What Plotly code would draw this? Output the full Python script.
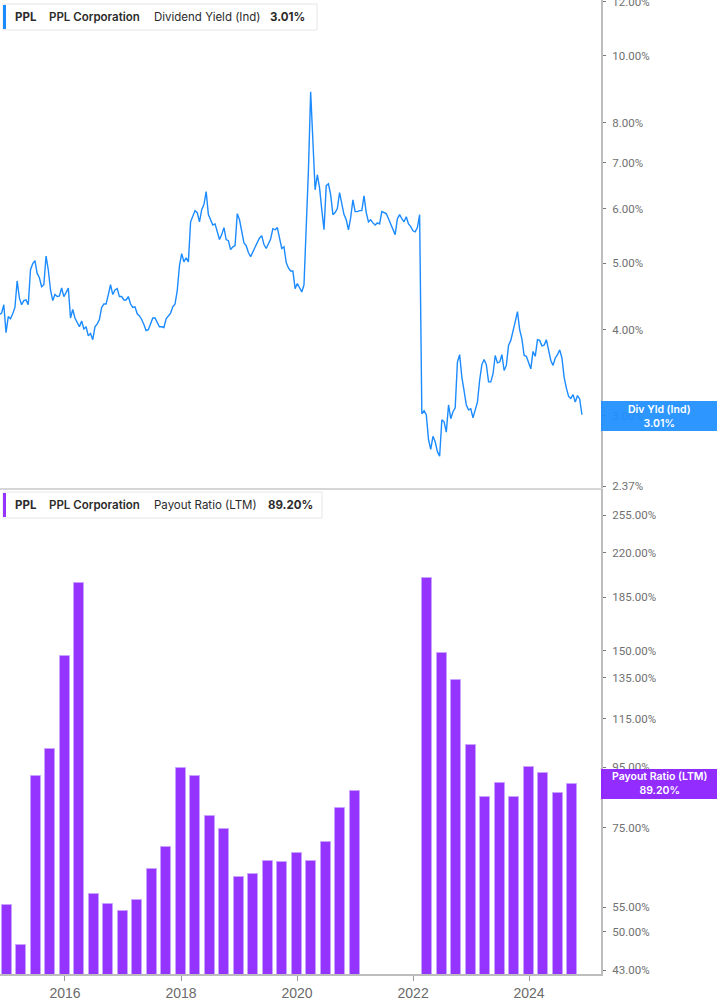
import math
import plotly.graph_objects as go
import pandas as pd

# ---------------- data ----------------
yield_dates = pd.date_range("2014-11-14", periods=263, freq="14D")
div_yield = [
    4.21, 4.23, 4.35, 3.96, 4.18, 4.15, 4.22, 4.31, 4.71, 4.45,
    4.35, 4.41, 4.42, 4.35, 4.89, 4.99, 5.04, 4.83, 4.76, 4.62,
    4.65, 5.12, 4.89, 4.57, 4.41, 4.50, 4.47, 4.48, 4.60, 4.47,
    4.53, 4.60, 4.16, 4.28, 4.16, 4.09, 4.04, 4.12, 4.01, 4.04,
    3.92, 3.95, 3.87, 4.04, 4.08, 4.14, 4.31, 4.36, 4.36, 4.50,
    4.65, 4.50, 4.57, 4.59, 4.47, 4.47, 4.42, 4.42, 4.47, 4.36,
    4.31, 4.32, 4.22, 4.19, 4.14, 4.07, 3.99, 4.00, 4.07, 4.16,
    4.16, 4.09, 4.04, 4.04, 4.03, 4.15, 4.19, 4.23, 4.32, 4.36,
    4.56, 4.96, 5.16, 5.02, 5.09, 5.02, 5.74, 5.86, 5.96, 5.92,
    5.74, 5.98, 6.08, 6.35, 5.88, 5.78, 5.68, 5.70, 5.55, 5.41,
    5.50, 5.63, 5.41, 5.39, 5.23, 5.28, 5.30, 5.90, 5.78, 5.57,
    5.35, 5.30, 5.18, 5.11, 5.19, 5.28, 5.35, 5.44, 5.48, 5.32,
    5.25, 5.35, 5.42, 5.61, 5.59, 5.63, 5.42, 5.25, 5.28, 5.01,
    4.92, 4.87, 4.87, 4.59, 4.67, 4.59, 4.54, 4.65, 5.53, 6.83,
    8.87, 7.31, 6.39, 6.72, 6.43, 5.98, 5.59, 6.48, 6.52, 6.28,
    5.88, 5.92, 6.00, 6.33, 6.12, 5.88, 5.78, 5.59, 5.82, 6.18,
    5.94, 5.94, 5.96, 5.96, 6.26, 5.92, 5.74, 5.78, 5.72, 5.68,
    5.72, 5.70, 5.94, 5.92, 5.90, 5.80, 5.70, 5.61, 5.50, 5.80,
    5.88, 5.80, 5.74, 5.84, 5.70, 5.65, 5.57, 5.55, 5.63, 5.88,
    3.02, 3.05, 3.01, 2.77, 2.68, 2.80, 2.75, 2.66, 2.62, 2.96,
    2.94, 2.84, 3.11, 2.97, 3.04, 3.08, 3.59, 3.68, 3.41, 3.26,
    3.11, 3.06, 3.07, 2.98, 3.05, 3.14, 3.38, 3.56, 3.62, 3.56,
    3.36, 3.36, 3.45, 3.67, 3.58, 3.59, 3.68, 3.49, 3.55, 3.80,
    3.86, 3.97, 4.11, 4.25, 4.00, 3.88, 3.67, 3.66, 3.58, 3.51,
    3.72, 3.66, 3.87, 3.86, 3.79, 3.80, 3.87, 3.74, 3.61, 3.55,
    3.64, 3.68, 3.74, 3.64, 3.41, 3.29, 3.20, 3.18, 3.22, 3.14,
    3.21, 3.17, 3.01,
]

payout_dates = [
    "2014-12-31", "2015-03-31", "2015-06-30", "2015-09-30", "2015-12-31",
    "2016-03-31", "2016-06-30", "2016-09-30", "2016-12-31",
    "2017-03-31", "2017-06-30", "2017-09-30", "2017-12-31",
    "2018-03-31", "2018-06-30", "2018-09-30", "2018-12-31",
    "2019-03-31", "2019-06-30", "2019-09-30", "2019-12-31",
    "2020-03-31", "2020-06-30", "2020-09-30", "2020-12-31",
    "2022-03-31", "2022-06-30", "2022-09-30", "2022-12-31",
    "2023-03-31", "2023-06-30", "2023-09-30", "2023-12-31",
    "2024-03-31", "2024-06-30", "2024-09-30",
]
payout_ratio = [
    55.5, 47.4, 91.8, 102.0, 146.8,
    195.2, 57.8, 55.7, 54.1,
    56.5, 63.8, 69.7, 94.8,
    92.0, 78.4, 74.8, 61.9,
    62.7, 66.0, 65.5, 68.1,
    66.0, 70.9, 81.2, 86.6,
    199.5, 148.5, 133.6, 103.9,
    84.6, 89.4, 84.6, 95.0,
    93.1, 85.8, 89.2,
]

yield_ticks = [2.37, 3, 4, 5, 6, 7, 8, 10, 12]
payout_ticks = [43, 50, 55, 75, 95, 115, 135, 150, 185, 220, 255]
year_ticks = ["2016-01-01", "2018-01-01", "2020-01-01", "2022-01-01", "2024-01-01"]
year_labels = ["2016", "2018", "2020", "2022", "2024"]

# ---------------- styling ----------------
W, H = 717, 1005
ML, MR, MT, MB = 0, 116, 0, 31
PW, PH = W - ML - MR, H - MT - MB  # plot area in px

BLUE = "#1B8BFF"
BLUE_LBL = "#1E8FFF"
PURPLE = "#9634FF"
PURPLE_LBL = "#8A1CFF"
AXIS_GRAY = "#bdbdbd"
TICK_FONT = dict(family="Roboto, Arial, sans-serif", size=11.5, color="#707070")


def px_x(x):
    return (x - ML) / PW


def px_y(y):
    return (H - MB - y) / PH


fig = go.Figure()

fig.add_trace(go.Scatter(
    x=yield_dates, y=div_yield, mode="lines",
    line=dict(color=BLUE, width=1.4), xaxis="x", yaxis="y",
    hoverinfo="skip", showlegend=False,
))

bar_width_ms = 63 * 24 * 3600 * 1000
fig.add_trace(go.Bar(
    x=pd.to_datetime(payout_dates), y=payout_ratio, width=bar_width_ms,
    marker=dict(color=PURPLE, line=dict(color="#C8A2FF", width=1)),
    xaxis="x2", yaxis="y2", hoverinfo="skip", showlegend=False,
))

x_range = ["2014-11-18", "2025-03-29"]
top_dom = [px_y(487.5), 1.0]
bot_dom = [0.0, px_y(489)]

fig.update_layout(
    width=W, height=H,
    margin=dict(l=ML, r=MR, t=MT, b=MB, autoexpand=False),
    paper_bgcolor="white", plot_bgcolor="white",
    showlegend=False,
    bargap=0,
    xaxis=dict(
        type="date", range=x_range, domain=[0, 1], anchor="y", automargin=False,
        showgrid=False, zeroline=False, showticklabels=False, ticks="",
        showline=True, linecolor="#d6d6d6", linewidth=2,
    ),
    yaxis=dict(
        type="log", domain=top_dom, automargin=False,
        range=[0.3728, math.log10(12.06)],
        side="right", anchor="x",
        tickvals=yield_ticks,
        ticktext=[f"{v:.2f}%" for v in yield_ticks],
        ticks="outside", ticklen=3, tickcolor="#777", tickwidth=1,
        tickfont=TICK_FONT, ticklabelstandoff=4, ticklabeloverflow="allow",
        showgrid=False, zeroline=False,
        showline=True, linecolor=AXIS_GRAY, linewidth=2,
    ),
    xaxis2=dict(
        type="date", range=x_range, domain=[0, 1], anchor="y2", matches="x",
        automargin=False,
        showgrid=False, zeroline=False,
        tickvals=year_ticks, ticktext=year_labels,
        ticks="outside", ticklen=5, tickcolor="#999", tickwidth=1,
        tickfont=dict(family="Liberation Sans Narrow, Arial Narrow, sans-serif", size=14, color="#6b6b6b"),
        showline=True, linecolor=AXIS_GRAY, linewidth=2,
    ),
    yaxis2=dict(
        type="log", domain=bot_dom, automargin=False,
        range=[1.62672, 2.45071],
        side="right", anchor="x2",
        tickvals=payout_ticks,
        ticktext=[f"{v:.2f}%" for v in payout_ticks],
        ticks="outside", ticklen=3, tickcolor="#777", tickwidth=1,
        tickfont=TICK_FONT, ticklabelstandoff=4, ticklabeloverflow="allow",
        showgrid=False, zeroline=False,
        showline=True, linecolor=AXIS_GRAY, linewidth=2,
    ),
)

shapes = []
annotations = []


def legend_box(y0, y1, x1, accent, pieces):
    shapes.append(dict(type="rect", xref="paper", yref="paper",
                       x0=px_x(3), x1=px_x(x1), y0=px_y(y1), y1=px_y(y0),
                       line=dict(color="#e6e6e6", width=1), fillcolor="white", layer="above"))
    shapes.append(dict(type="rect", xref="paper", yref="paper",
                       x0=px_x(3), x1=px_x(6), y0=px_y(y1 - 1), y1=px_y(y0 + 1),
                       line=dict(width=0), fillcolor=accent, layer="above"))
    yc = px_y((y0 + y1) / 2)
    for xpos, txt, weight in pieces:
        annotations.append(dict(
            xref="paper", yref="paper", x=px_x(xpos), y=yc,
            xanchor="left", yanchor="middle", showarrow=False, text=txt,
            font=dict(family="Inter, Roboto, sans-serif", size=11.5, color="#2b2b2b", weight=weight),
        ))


legend_box(4, 30, 317, BLUE, [
    (13, "PPL", 700), (47, "PPL Corporation", 600),
    (152, "Dividend Yield (Ind)", 400), (268, "3.01%", 700),
])
legend_box(492, 518, 322, PURPLE, [
    (13, "PPL", 700), (47, "PPL Corporation", 600),
    (152, "Payout Ratio (LTM)", 400), (266, "89.20%", 700),
])


def value_label(ycenter, color, text):
    shapes.append(dict(type="rect", xref="paper", yref="paper",
                       x0=px_x(601), x1=px_x(717), y0=px_y(ycenter + 15), y1=px_y(ycenter - 15),
                       line=dict(width=0), fillcolor=color, opacity=0.93, layer="above"))
    annotations.append(dict(
        xref="paper", yref="paper", x=px_x(659), y=px_y(ycenter),
        xanchor="center", yanchor="middle", showarrow=False, text=text,
        font=dict(family="Inter, Roboto, sans-serif", size=10.5, color="white", weight=600),
    ))


value_label(416, BLUE_LBL, "Div Yld (Ind)<br>3.01%")
value_label(784, PURPLE_LBL, "Payout Ratio (LTM)<br>89.20%")

fig.update_layout(shapes=shapes, annotations=annotations)

fig.write_html(
    "out.html",
    config={"displayModeBar": False},
    post_script="document.body.style.margin='0px';document.body.style.padding='0px';"
                "document.documentElement.style.overflow='hidden';",
)
